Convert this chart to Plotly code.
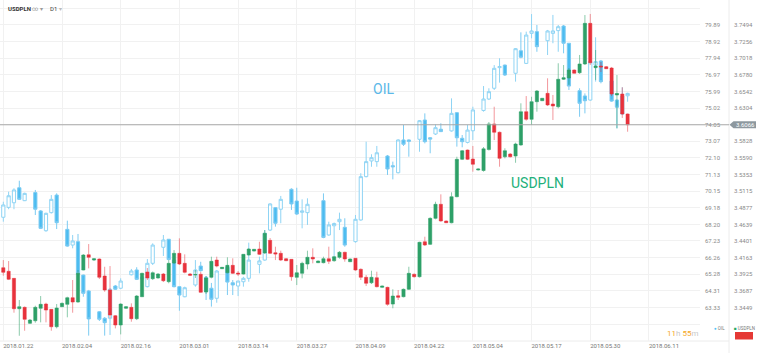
import plotly.graph_objects as go

# ---------------- data ----------------
x_tick_labels = ["2018.01.22", "2018.02.04", "2018.02.16", "2018.03.01", "2018.03.14",
                 "2018.03.27", "2018.04.09", "2018.04.22", "2018.05.04", "2018.05.17",
                 "2018.05.30", "2018.06.11"]
bars_per_label = 11

oil_ticks = [80.86, 79.89, 78.92, 77.94, 76.97, 75.99, 75.02, 74.05, 73.07, 72.10,
             71.13, 70.15, 69.18, 68.20, 67.23, 66.26, 65.28, 64.31, 63.33, 62.36]
oil_tick_text = [""] + [f"{v:.2f}" for v in oil_ticks[1:-1]] + [""]
usd_ticks = [3.7494, 3.7256, 3.7018, 3.6780, 3.6542, 3.6304, 3.5828, 3.5590, 3.5353,
             3.5115, 3.4877, 3.4639, 3.4401, 3.4163, 3.3925, 3.3687, 3.3449]

usd_open = [3.4019, 3.3968, 3.3867, 3.3432, 3.3452, 3.3223, 3.3260, 3.3438, 3.3499, 3.3423,
            3.3174, 3.3461, 3.3495, 3.3590, 3.3528, 3.3986, 3.4205, 3.4129, 3.4144, 3.3900,
            3.3700, 3.3332, 3.3199, 3.3438, 3.3452, 3.3289, 3.3604, 3.3958, 3.3862, 3.3872,
            3.3929, 3.3819, 3.4086, 3.4225, 3.4082, 3.3929, 3.3915, 3.3925, 3.3671, 3.3882,
            3.4129, 3.4005, 3.3947, 3.4053, 3.3943, 3.3929, 3.4201, 3.4258, 3.4287, 3.4230,
            3.4411, 3.4234, 3.4225, 3.4148, 3.4139, 3.3882, 3.3939, 3.4072, 3.4168, 3.4091,
            3.4091, 3.4148, 3.4119, 3.4168, 3.4240, 3.4105, 3.4154, 3.3996, 3.3882, 3.3804,
            3.3876, 3.3738, 3.3738, 3.3499, 3.3618, 3.3604, 3.3710, 3.3925, 3.3890, 3.4391,
            3.4354, 3.4726, 3.4927, 3.4688, 3.4663, 3.5036, 3.5571, 3.5704, 3.5575, 3.5418,
            3.5411, 3.5711, 3.6077, 3.5958, 3.5608, 3.5647, 3.5618, 3.5776, 3.6253, 3.6144,
            3.6396, 3.6410, 3.6516, 3.6363, 3.6324, 3.6717, 3.6735, 3.6850, 3.6811, 3.6936,
            3.7518, 3.6883, 3.6907, 3.6897, 3.6878, 3.6492, 3.6506, 3.6220]
usd_high = [3.4129, 3.4115, 3.3872, 3.3557, 3.3464, 3.3285, 3.3475, 3.3614, 3.3518, 3.3428,
            3.3499, 3.3521, 3.3604, 3.3843, 3.3986, 3.4215, 3.4358, 3.4158, 3.4151, 3.4033,
            3.4043, 3.3342, 3.3509, 3.3471, 3.3509, 3.3628, 3.3947, 3.4015, 3.3965, 3.3943,
            3.3943, 3.4129, 3.4272, 3.4440, 3.4211, 3.3943, 3.3986, 3.3958, 3.3900, 3.4177,
            3.4177, 3.4029, 3.4168, 3.4154, 3.3972, 3.4215, 3.4297, 3.4287, 3.4391, 3.4559,
            3.4444, 3.4320, 3.4263, 3.4158, 3.4144, 3.4058, 3.4105, 3.4263, 3.4297, 3.4122,
            3.4177, 3.4320, 3.4187, 3.4258, 3.4248, 3.4151, 3.4158, 3.4010, 3.3915, 3.3976,
            3.3962, 3.3764, 3.3747, 3.3710, 3.3700, 3.3721, 3.4033, 3.3936, 3.4391, 3.4463,
            3.4741, 3.4964, 3.5070, 3.4695, 3.5099, 3.5608, 3.5704, 3.5711, 3.5762, 3.5440,
            3.5747, 3.6105, 3.6324, 3.5969, 3.5729, 3.5661, 3.5809, 3.6373, 3.6477, 3.6467,
            3.6563, 3.6449, 3.6731, 3.6492, 3.6946, 3.6921, 3.6878, 3.6857, 3.7065, 3.7637,
            3.7652, 3.7136, 3.6964, 3.6907, 3.6893, 3.6778, 3.6602, 3.6227]
usd_low = [3.3905, 3.3843, 3.3375, 3.3045, 3.3117, 3.3213, 3.3232, 3.3237, 3.3237, 3.3117,
           3.3151, 3.3456, 3.3309, 3.3375, 3.3518, 3.3982, 3.4010, 3.4115, 3.3857, 3.3675,
           3.3299, 3.3151, 3.3065, 3.3428, 3.3246, 3.3270, 3.3600, 3.3843, 3.3843, 3.3864,
           3.3814, 3.3796, 3.4072, 3.4058, 3.3939, 3.3900, 3.3872, 3.3661, 3.3643, 3.3867,
           3.4025, 3.4001, 3.3939, 3.3929, 3.3900, 3.3922, 3.4194, 3.4251, 3.4201, 3.4215,
           3.4215, 3.4129, 3.4115, 3.4115, 3.3833, 3.3771, 3.3867, 3.3996, 3.4082, 3.4086,
           3.4082, 3.4072, 3.4105, 3.4148, 3.4105, 3.4101, 3.3976, 3.3843, 3.3757, 3.3786,
           3.3738, 3.3728, 3.3475, 3.3438, 3.3557, 3.3595, 3.3700, 3.3879, 3.3879, 3.4330,
           3.4344, 3.4712, 3.4678, 3.4659, 3.4655, 3.5027, 3.5561, 3.5561, 3.5394, 3.5411,
           3.5394, 3.5697, 3.5847, 3.5465, 3.5585, 3.5597, 3.5522, 3.5766, 3.6124, 3.6062,
           3.6253, 3.6406, 3.6334, 3.6134, 3.6301, 3.6707, 3.6635, 3.6800, 3.6793, 3.6921,
           3.6921, 3.6707, 3.6821, 3.6864, 3.6477, 3.6015, 3.6163, 3.5966]
usd_close = [3.3953, 3.3853, 3.3432, 3.3461, 3.3280, 3.3270, 3.3452, 3.3495, 3.3413, 3.3174,
             3.3442, 3.3509, 3.3590, 3.3528, 3.3939, 3.4201, 3.4168, 3.4148, 3.3882, 3.3700,
             3.3342, 3.3199, 3.3499, 3.3461, 3.3289, 3.3614, 3.3939, 3.3872, 3.3947, 3.3929,
             3.3833, 3.4082, 3.4225, 3.4072, 3.3953, 3.3910, 3.3922, 3.3667, 3.3872, 3.4111,
             3.4043, 3.4025, 3.4053, 3.3939, 3.3929, 3.4211, 3.4287, 3.4283, 3.4211, 3.4512,
             3.4225, 3.4215, 3.4129, 3.4119, 3.3890, 3.3947, 3.4082, 3.4168, 3.4144, 3.4115,
             3.4148, 3.4111, 3.4177, 3.4240, 3.4144, 3.4144, 3.3986, 3.3882, 3.3796, 3.3882,
             3.3747, 3.3757, 3.3495, 3.3614, 3.3595, 3.3710, 3.3939, 3.3890, 3.4383, 3.4344,
             3.4726, 3.4927, 3.4688, 3.4663, 3.5036, 3.5571, 3.5694, 3.5571, 3.5500, 3.5432,
             3.5721, 3.6077, 3.5958, 3.5585, 3.5694, 3.5608, 3.5790, 3.6253, 3.6144, 3.6396,
             3.6549, 3.6445, 3.6349, 3.6334, 3.6717, 3.6739, 3.6850, 3.6803, 3.6936, 3.7518,
             3.6954, 3.6907, 3.6893, 3.6868, 3.6506, 3.6513, 3.6220, 3.6066]

N = None
oil_open = [68.62, 69.20, 69.47, 70.35, 69.59, N, 70.07, 68.99, 67.83, 68.89,
            69.92, N, 67.91, 66.99, 67.19, 65.23, 64.30, N, 63.08, 62.70,
            62.70, 64.59, 64.46, N, 65.25, 65.53, 64.99, 64.55, 65.92, N,
            66.86, 67.33, 66.11, 64.55, 63.96, N, 64.65, 65.76, 65.10, 64.46,
            63.87, N, 65.69, 64.78, 64.59, 64.84, 65.04, N, 65.86, 66.11,
            67.87, 69.18, 69.09, N, 70.26, 69.57, 68.91, 68.89, N, N,
            69.59, 67.58, 68.12, 68.36, 68.03, N, 67.19, 68.46, 71.00, 71.92,
            71.88, N, 72.21, 71.64, 71.23, 73.15, 73.15, N, 73.19, 74.32,
            73.28, 73.50, 73.78, N, 73.68, 74.75, 73.25, 73.01, 73.69, N,
            74.88, 75.55, 76.18, 77.39, 77.54, N, 77.06, 78.38, 77.64, 79.40,
            79.50, N, 78.97, 79.40, 79.56, 79.83, 78.82, N, 76.04, 75.73,
            75.49, 77.54, 77.78, N, 76.61, 75.49, 74.67, 75.74]
oil_high = [69.53, 70.12, 70.32, 70.76, 70.06, N, 70.22, 69.04, 68.89, 69.92,
            70.02, N, 68.42, 67.58, 67.64, 65.26, 64.36, N, 63.12, 62.77,
            64.46, 64.65, 65.04, N, 65.59, 65.69, 65.23, 66.17, 67.09, N,
            67.58, 67.34, 66.14, 64.59, 64.55, N, 66.11, 66.01, 65.18, 64.77,
            65.53, N, 65.82, 64.94, 64.90, 65.13, 67.13, N, 66.31, 67.87,
            69.44, 69.22, 69.87, N, 70.32, 70.35, 69.67, 69.73, N, N,
            70.02, 68.36, 68.31, 68.89, 68.56, N, 68.75, 71.20, 73.05, 72.31,
            72.80, N, 72.27, 71.88, 73.19, 74.03, 73.18, N, 74.32, 74.71,
            73.32, 74.07, 74.13, N, 75.59, 74.79, 73.44, 74.03, 75.10, N,
            76.31, 76.18, 77.54, 77.94, 77.57, N, 78.54, 79.46, 79.50, 80.53,
            79.89, N, 79.60, 80.48, 79.89, 79.89, 78.83, N, 76.18, 75.88,
            79.20, 79.17, 77.84, N, 76.66, 75.52, 76.24, 75.92]
oil_low = [68.36, 69.09, 69.09, 69.63, 69.57, N, 68.75, 67.93, 67.77, 68.84,
           67.93, N, 66.89, 66.80, 65.29, 63.96, 61.68, N, 62.54, 61.68,
           61.72, 64.36, 64.41, N, 65.21, 64.94, 64.88, 64.51, 65.82, N,
           66.35, 66.11, 64.51, 63.14, 63.93, N, 64.55, 65.43, 63.77, 63.38,
           63.61, N, 64.06, 64.06, 64.00, 64.55, 64.84, N, 65.33, 66.07,
           67.81, 68.07, 68.27, N, 69.05, 68.75, 67.97, 68.17, N, N,
           67.39, 67.54, 66.31, 67.87, 66.89, N, 67.13, 68.42, 70.96, 71.58,
           71.58, N, 71.10, 70.84, 71.19, 72.80, 72.17, N, 72.46, 72.95,
           72.37, 73.44, 73.62, N, 73.64, 72.76, 72.72, 72.95, 73.15, N,
           74.81, 75.49, 76.08, 76.51, 76.90, N, 76.57, 77.94, 77.60, 79.11,
           78.32, N, 78.13, 78.82, 78.32, 78.23, 76.08, N, 74.51, 74.71,
           75.45, 76.57, 76.47, N, 75.39, 73.83, 74.61, 75.39]
oil_close = [69.34, 69.88, 70.22, 69.67, 70.02, N, 69.09, 67.97, 68.85, 69.67,
             68.30, N, 66.93, 67.23, 65.33, 64.16, 62.66, N, 62.64, 62.44,
             64.40, 64.40, 64.88, N, 65.47, 64.98, 65.12, 65.92, 66.99, N,
             67.29, 66.14, 64.55, 64.06, 64.49, N, 65.53, 65.49, 64.26, 63.81,
             65.47, N, 64.82, 64.65, 64.88, 65.04, 66.11, N, 66.06, 67.68,
             69.40, 68.27, 69.67, N, 69.40, 68.81, 68.99, 69.38, N, N,
             67.44, 68.17, 68.25, 68.50, 66.99, N, 68.50, 71.00, 71.88, 72.11,
             72.40, N, 71.45, 71.58, 73.15, 72.90, 73.07, N, 74.28, 73.05,
             73.20, 73.87, 73.64, N, 74.71, 73.28, 73.05, 73.73, 74.91, N,
             75.55, 75.98, 77.35, 77.45, 76.96, N, 78.50, 78.00, 79.30, 79.54,
             78.62, N, 79.54, 79.54, 79.79, 78.82, 76.31, N, 75.30, 75.45,
             77.74, 77.74, 76.57, N, 75.43, 75.07, 75.73, 75.88]

bar_index = list(range(len(usd_close)))

# ---------------- geometry helpers (decor only) ----------------
W, H = 760, 353
PLOT_W, PLOT_H = 700, 341
BAR_PX = 5.336
X0_PX = 3.3
x_range = [-X0_PX / BAR_PX, (PLOT_W - X0_PX) / BAR_PX]
oil_range = [61.366, 81.355]
usd_range = [3.2970, 3.7852]


def px(p):
    return p / PLOT_W


def py(p):
    return (PLOT_H - p) / PLOT_H


FONT = "Roboto, 'Open Sans', sans-serif"

fig = go.Figure()

fig.add_trace(go.Candlestick(
    x=bar_index, open=usd_open, high=usd_high, low=usd_low, close=usd_close,
    yaxis="y2", name="USDPLN",
    increasing=dict(line=dict(color="rgba(46,160,104,0.55)", width=1), fillcolor="#2ea068"),
    decreasing=dict(line=dict(color="rgba(232,50,60,0.5)", width=1), fillcolor="#e8323c"),
    hoverinfo="skip", showlegend=False,
))
fig.add_trace(go.Candlestick(
    x=bar_index, open=oil_open, high=oil_high, low=oil_low, close=oil_close,
    yaxis="y", name="OIL",
    increasing=dict(line=dict(color="#8fd4f4", width=1), fillcolor="#ffffff"),
    decreasing=dict(line=dict(color="#7ccbf2", width=1), fillcolor="#4cbcf0"),
    hoverinfo="skip", showlegend=False,
))

last_usd = usd_close[-1]

shapes = [
    # current price line
    dict(type="line", xref="paper", yref="y2", x0=0, x1=px(729), y0=last_usd, y1=last_usd,
         line=dict(color="#a9a9a9", width=1), layer="above"),
    # separators
    dict(type="line", xref="paper", yref="paper", x0=px(729), x1=px(729), y0=py(353), y1=1,
         line=dict(color="#ececec", width=1), layer="below"),
    dict(type="line", xref="paper", yref="paper", x0=0, x1=px(729), y0=0, y1=0,
         line=dict(color="#ececec", width=1), layer="below"),
    # red box under legend
    dict(type="rect", xref="paper", yref="paper", x0=px(735), x1=px(753), y0=py(339.5), y1=py(332),
         fillcolor="#e53935", line=dict(width=0)),
]
# price label arrow box
yc = (last_usd - usd_range[0]) / (usd_range[1] - usd_range[0])
hh = 3.6 / PLOT_H
shapes.append(dict(
    type="path", xref="paper", yref="paper",
    path=(f"M {px(729.5)},{yc} L {px(733.5)},{yc + hh} L {px(756)},{yc + hh} "
          f"L {px(756)},{yc - hh} L {px(733.5)},{yc - hh} Z"),
    fillcolor="#8d989f", line=dict(width=0), layer="above"))

annotations = [
    dict(text=f"{last_usd:.4f}", xref="paper", yref="y2", x=px(734), y=last_usd,
         xanchor="left", yanchor="middle", showarrow=False,
         font=dict(family=FONT, size=6, color="#ffffff")),
    dict(text="<b>USDPLN</b>", xref="paper", yref="paper", x=px(6), y=py(8.5),
         xanchor="left", yanchor="middle", showarrow=False,
         font=dict(family=FONT, size=6, color="#333333")),
    dict(text="∞ ▾", xref="paper", yref="paper", x=px(30), y=py(8.5),
         xanchor="left", yanchor="middle", showarrow=False,
         font=dict(family=FONT, size=6, color="#9a9a9a")),
    dict(text="D1 <span style='color:#bbbbbb'>▾</span>", xref="paper", yref="paper", x=px(48), y=py(8.5),
         xanchor="left", yanchor="middle", showarrow=False,
         font=dict(family=FONT, size=6, color="#444444")),
    dict(text="OIL", xref="paper", yref="paper", x=px(383), y=py(89),
         xanchor="center", yanchor="middle", showarrow=False,
         font=dict(family=FONT, size=14, color="#5bb8e8")),
    dict(text="USDPLN", xref="paper", yref="paper", x=px(537), y=py(183),
         xanchor="center", yanchor="middle", showarrow=False,
         font=dict(family=FONT, size=14, color="#22b07a")),
    dict(text="<span style='color:#f5a623'>11</span>h <span style='color:#f5a623'>55</span>m",
         xref="paper", yref="paper", x=px(700), y=py(333),
         xanchor="right", yanchor="middle", showarrow=False,
         font=dict(family=FONT, size=8, color="#c8c8c8")),
    dict(text="<span style='color:#4fc3f7'>●</span> OIL", xref="paper", yref="paper",
         x=px(712), y=py(328.5), xanchor="left", yanchor="middle", showarrow=False,
         font=dict(family=FONT, size=4.5, color="#777777")),
    dict(text="<span style='color:#27a866'>■</span> USDPLN", xref="paper", yref="paper",
         x=px(732), y=py(328.5), xanchor="left", yanchor="middle", showarrow=False,
         font=dict(family=FONT, size=4.5, color="#777777")),
]

fig.update_layout(
    width=W, height=H,
    margin=dict(l=0, r=W - PLOT_W, t=0, b=H - PLOT_H),
    paper_bgcolor="#ffffff", plot_bgcolor="#ffffff",
    font=dict(family=FONT, size=6, color="#888888"),
    showlegend=False,
    boxgap=0.4, boxgroupgap=0,
    xaxis=dict(
        range=x_range, rangeslider=dict(visible=False),
        tickvals=[i * bars_per_label for i in range(len(x_tick_labels))],
        ticktext=x_tick_labels, ticklabelshift=15, ticklabelstandoff=0,
        tickfont=dict(family=FONT, size=6, color="#777777"),
        showgrid=True, gridcolor="#f1f1f1", gridwidth=1,
        zeroline=False, showline=False, ticks="",
    ),
    yaxis=dict(
        range=oil_range, side="right", tickvals=oil_ticks, ticktext=oil_tick_text,
        tickfont=dict(family=FONT, size=6, color="#8a8a8a"),
        showgrid=True, gridcolor="#f1f1f1", gridwidth=1,
        zeroline=False, showline=False, ticks="", ticklabelstandoff=4,
    ),
    yaxis2=dict(
        range=usd_range, side="right", overlaying="y", anchor="x",
        tickvals=usd_ticks, tickformat=".4f",
        tickfont=dict(family=FONT, size=6, color="#8a8a8a"),
        showgrid=False, zeroline=False, showline=False, ticks="", ticklabelstandoff=33,
    ),
    shapes=shapes,
    annotations=annotations,
)

fig.write_html("out.html")
